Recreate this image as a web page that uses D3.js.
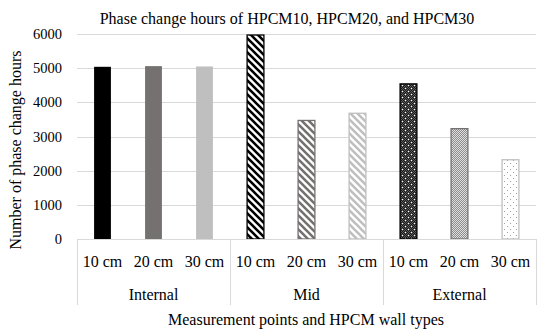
<!DOCTYPE html>
<html>
<head>
<meta charset="utf-8">
<script src="https://cdn.jsdelivr.net/npm/d3@7"></script>
<style>
  body { margin: 0; background: #fff; }
  text { font-family: "Liberation Serif", serif; fill: #000; }
</style>
</head>
<body>
<script>
// chart values
var groups = ["Internal", "Mid", "External"];
var sizes = ["10 cm", "20 cm", "30 cm"];
var hoursInternal = [5040, 5060, 5050];
var hoursMid = [5970, 3470, 3680];
var hoursExternal = [4540, 3230, 2320];
var yTicks = [0, 1000, 2000, 3000, 4000, 5000, 6000];

var hours = [hoursInternal, hoursMid, hoursExternal];
var shades = ["#000000", "#767171", "#bfbfbf"];

var svg = d3.select("body").append("svg")
    .attr("width", 550)
    .attr("height", 330);

var plotLeft = 77, plotRight = 536, plotTop = 34, plotBottom = 239;

var x0 = d3.scaleBand().domain(groups).range([plotLeft, plotRight]);
var x1 = d3.scaleBand().domain(sizes).range([0, x0.bandwidth()])
    .paddingInner(0.67).paddingOuter(0.335);
var y = d3.scaleLinear().domain([0, 6000]).range([plotBottom, plotTop]);

// fill patterns
var defs = svg.append("defs");
shades.forEach(function(c, i) {
  var p = defs.append("pattern").attr("id", "stripe" + i)
      .attr("patternUnits", "userSpaceOnUse")
      .attr("width", 7).attr("height", 7);
  p.append("rect").attr("width", 7).attr("height", 7).attr("fill", "#fff");
  p.append("path").attr("d", "M-2,-2 L9,9 M-2,5 L2,9 M5,-2 L9,2")
      .attr("stroke", c).attr("stroke-width", 2.6);
});

// External 10 cm: dark checker with white flecks
var pd = defs.append("pattern").attr("id", "dots0")
    .attr("patternUnits", "userSpaceOnUse").attr("width", 6).attr("height", 6);
pd.append("rect").attr("width", 6).attr("height", 6).attr("fill", "#5a5a5a");
[[0,0],[2,0],[4,0],[1,1],[3,1],[5,1],[0,2],[2,2],[4,2],[1,3],[3,3],[5,3],[0,4],[2,4],[4,4],[1,5],[3,5],[5,5]]
  .forEach(function(q) {
    pd.append("rect").attr("x", q[0]).attr("y", q[1]).attr("width", 1).attr("height", 1).attr("fill", "#1a1a1a");
  });
pd.append("rect").attr("x", 1).attr("y", 1).attr("width", 1).attr("height", 1).attr("fill", "#fff");
pd.append("rect").attr("x", 4).attr("y", 4).attr("width", 1).attr("height", 1).attr("fill", "#fff");

// External 20 cm: light checker
var pc = defs.append("pattern").attr("id", "dots1")
    .attr("patternUnits", "userSpaceOnUse").attr("width", 2).attr("height", 2);
pc.append("rect").attr("width", 2).attr("height", 2).attr("fill", "#e0e0e0");
pc.append("rect").attr("width", 1).attr("height", 1).attr("fill", "#8c8c8c");
pc.append("rect").attr("x", 1).attr("y", 1).attr("width", 1).attr("height", 1).attr("fill", "#8c8c8c");

// External 30 cm: sparse dots
var ps = defs.append("pattern").attr("id", "dots2")
    .attr("patternUnits", "userSpaceOnUse").attr("width", 6).attr("height", 6);
ps.append("rect").attr("width", 6).attr("height", 6).attr("fill", "#fff");
ps.append("rect").attr("x", 1).attr("y", 1).attr("width", 1).attr("height", 1).attr("fill", "#a0a0a0");
ps.append("rect").attr("x", 4).attr("y", 4).attr("width", 1).attr("height", 1).attr("fill", "#a0a0a0");

// gridlines
svg.selectAll("line.grid")
    .data(yTicks.slice(1))
    .enter().append("line")
    .attr("class", "grid")
    .attr("x1", plotLeft).attr("x2", plotRight)
    .attr("y1", function(d) { return Math.round(y(d)) + 0.5; })
    .attr("y2", function(d) { return Math.round(y(d)) + 0.5; })
    .attr("stroke", "#d9d9d9").attr("stroke-width", 1);

// y labels
svg.selectAll("text.ytick")
    .data(yTicks)
    .enter().append("text")
    .attr("class", "ytick")
    .attr("x", 62)
    .attr("y", function(d) { return y(d) + 5; })
    .attr("text-anchor", "end")
    .attr("font-size", 14.5)
    .text(function(d) { return d; });

// bars
function fillFor(g, i) {
  if (g == 0) return shades[i];
  if (g == 1) return "url(#stripe" + i + ")";
  return "url(#dots" + i + ")";
}

var gBars = svg.selectAll("g.grp")
    .data(groups)
    .enter().append("g")
    .attr("class", "grp")
    .attr("transform", function(d) { return "translate(" + x0(d) + ",0)"; });

gBars.selectAll("rect")
    .data(function(d, g) { return hours[g].map(function(v, i) { return {g: g, i: i, v: v}; }); })
    .enter().append("rect")
    .attr("x", function(d) { return x1(sizes[d.i]); })
    .attr("width", x1.bandwidth())
    .attr("y", function(d) { return y(d.v); })
    .attr("height", function(d) { return plotBottom - y(d.v); })
    .attr("fill", function(d) { return fillFor(d.g, d.i); })
    .attr("stroke", function(d) { return d.g == 0 ? "none" : shades[d.i]; })
    .attr("stroke-width", 1.3);

// x axis line and category dividers
svg.append("line")
    .attr("x1", plotLeft).attr("x2", plotRight).attr("y1", plotBottom + 0.5).attr("y2", plotBottom + 0.5)
    .attr("stroke", "#d9d9d9");

var dividers = groups.map(function(d) { return x0(d); }).concat([plotRight]);
svg.selectAll("line.div")
    .data(dividers)
    .enter().append("line")
    .attr("class", "div")
    .attr("x1", function(d) { return Math.round(d) + 0.5; }).attr("x2", function(d) { return Math.round(d) + 0.5; })
    .attr("y1", plotBottom).attr("y2", 305)
    .attr("stroke", "#d9d9d9");

// size labels
gBars.selectAll("text")
    .data(sizes)
    .enter().append("text")
    .attr("x", function(d) { return x1(d) + x1.bandwidth() / 2; })
    .attr("y", 267)
    .attr("text-anchor", "middle")
    .attr("font-size", 16)
    .text(function(d) { return d; });

// group labels
svg.selectAll("text.grp")
    .data(groups)
    .enter().append("text")
    .attr("class", "grp")
    .attr("x", function(d) { return x0(d) + x0.bandwidth() / 2; })
    .attr("y", 300)
    .attr("text-anchor", "middle")
    .attr("font-size", 16)
    .text(function(d) { return d; });

// titles
svg.append("text")
    .attr("x", 287).attr("y", 24)
    .attr("text-anchor", "middle")
    .attr("font-size", 16)
    .text("Phase change hours of HPCM10, HPCM20, and HPCM30");

svg.append("text")
    .attr("x", 306).attr("y", 325)
    .attr("text-anchor", "middle")
    .attr("font-size", 16)
    .text("Measurement points and HPCM wall types");

svg.append("text")
    .attr("transform", "translate(21,150) rotate(-90)")
    .attr("text-anchor", "middle")
    .attr("font-size", 16)
    .text("Number of phase change hours");
</script>
</body>
</html>
